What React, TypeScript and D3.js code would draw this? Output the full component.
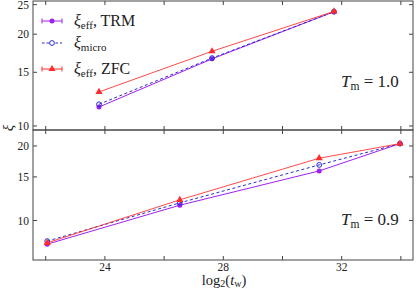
import React from "react";
import * as d3 from "d3";

const W = 416, H = 289;
const FONT = "'Liberation Serif', 'DejaVu Serif', serif";

// Top panel (T_m = 1.0)
const topX = [23.8, 27.62, 31.74];
const topTRM = [11.54, 16.6, 23.7];
const topMicro = [11.78, 16.7, 23.7];
const topZFC = [12.93, 17.58, 23.75];

// Bottom panel (T_m = 0.9)
const botX = [22.05, 26.53, 31.24, 33.97];
const botTRM = [8.03, 11.53, 15.86, 20.44];
const botMicro = [8.26, 11.79, 16.77, 20.44];
const botZFC = [8.13, 12.12, 17.85, 20.44];
const botZFCerr = [0.12, 0.2, 0.3, 0.2];
const topZFCerr = [0.12, 0.2, 0.2];

const xTicks = [22, 24, 26, 28, 30, 32, 34];
const xTickLabels = [24, 28, 32];
const topYTicks = [10, 15, 20, 25];
const botYTicks = [10, 15, 20];

const C_TRM = "#a020f0";
const C_MICRO = "#2b2bd0";
const C_ZFC = "#ff2a2a";

const L = 33, R = 413, T1 = 1, B1 = 130, B2 = 260;

const x = d3.scaleLinear().domain([21.57, 34.41]).range([L, R]);
const yTop = d3.scaleLog().domain([9.7, 25.7]).range([B1, T1]);
const yBot = d3.scaleLog().domain([6.93, 23.2]).range([B2, B1]);

function Series({ xs, ys, y, color, dash, marker, errs }: any) {
  const line = d3.line<number>().x((_, i) => x(xs[i])).y((v) => y(v));
  return (
    <g>
      <path d={line(ys) || ""} fill="none" stroke={color} strokeWidth={1} strokeDasharray={dash} opacity={marker === "tri" ? 0.85 : 1} />
      {errs && ys.map((v: number, i: number) => (
        <line key={"e" + i} x1={x(xs[i])} x2={x(xs[i])} y1={y(v + errs[i])} y2={y(v - errs[i])} stroke={color} strokeWidth={1} />
      ))}
      {ys.map((v: number, i: number) => {
        const cx = x(xs[i]), cy = y(v);
        if (marker === "tri") {
          const p = d3.symbol().type(d3.symbolTriangle).size(22)();
          return <path key={i} d={p || ""} transform={`translate(${cx},${cy})`} fill={color} />;
        }
        if (marker === "open") return <circle key={i} cx={cx} cy={cy} r={2.4} fill="none" stroke={color} strokeWidth={1} />;
        return <circle key={i} cx={cx} cy={cy} r={2.5} fill={color} />;
      })}
    </g>
  );
}

function Frame({ y, top, bottom, yTicks, showX }: any) {
  return (
    <g>
      {xTicks.map((t) => (
        <g key={"x" + t}>
          <line x1={x(t)} x2={x(t)} y1={bottom} y2={bottom - 4} stroke="#444" />
          <line x1={x(t)} x2={x(t)} y1={top} y2={top + 4} stroke="#444" />
        </g>
      ))}
      {yTicks.map((t: number) => (
        <g key={"y" + t}>
          <line x1={L} x2={L + 4} y1={y(t)} y2={y(t)} stroke="#444" />
          <line x1={R} x2={R - 4} y1={y(t)} y2={y(t)} stroke="#444" />
          <text x={L - 4} y={y(t)} dy="0.35em" textAnchor="end" fontSize={11.5} fontFamily={FONT} fill="#222">{t}</text>
        </g>
      ))}
      {showX && xTickLabels.map((t) => (
        <text key={"xl" + t} x={x(t)} y={bottom + 11} textAnchor="middle" fontSize={11.5} fontFamily={FONT} fill="#222">{t}</text>
      ))}
      <rect x={L} y={top} width={R - L} height={bottom - top} fill="none" stroke="#444" strokeWidth={1} />
    </g>
  );
}

function LegendRow({ yy, color, dash, marker, sub, tail }: any) {
  const x0 = 42, x1 = 62, xm = 52;
  return (
    <g>
      <line x1={x0} x2={x1} y1={yy} y2={yy} stroke={color} strokeDasharray={dash} />
      {!dash && <line x1={x0} x2={x0} y1={yy - 2.5} y2={yy + 2.5} stroke={color} />}
      {!dash && <line x1={x1} x2={x1} y1={yy - 2.5} y2={yy + 2.5} stroke={color} />}
      {marker === "tri" && <path d={d3.symbol().type(d3.symbolTriangle).size(22)() || ""} transform={`translate(${xm},${yy})`} fill={color} />}
      {marker === "open" && <circle cx={xm} cy={yy} r={2.4} fill="white" stroke={color} />}
      {marker === "fill" && <circle cx={xm} cy={yy} r={2.5} fill={color} />}
      <text x={74} y={yy + 5} fontSize={16} fontFamily={FONT} fill="#222">
        <tspan fontStyle="italic">ξ</tspan>
        <tspan fontSize={11} dy={3}>{sub}</tspan>
        {tail && <tspan dy={-3}>{tail}</tspan>}
      </text>
    </g>
  );
}

export default function App() {
  return (
    <svg width={W} height={H} style={{ position: "absolute", left: 0, top: 0 }}>
      <rect width={W} height={H} fill="white" />
      <Series xs={topX} ys={topTRM} y={yTop} color={C_TRM} marker="fill" />
      <Series xs={topX} ys={topMicro} y={yTop} color={C_MICRO} marker="open" dash="3,2.5" />
      <Series xs={topX} ys={topZFC} y={yTop} color={C_ZFC} marker="tri" errs={topZFCerr} />
      <Series xs={botX} ys={botTRM} y={yBot} color={C_TRM} marker="fill" />
      <Series xs={botX} ys={botMicro} y={yBot} color={C_MICRO} marker="open" dash="3,2.5" />
      <Series xs={botX} ys={botZFC} y={yBot} color={C_ZFC} marker="tri" errs={botZFCerr} />
      <Frame y={yTop} top={T1} bottom={B1} yTicks={topYTicks} showX={false} />
      <Frame y={yBot} top={B1} bottom={B2} yTicks={botYTicks} showX={true} />
      <LegendRow yy={21} color={C_TRM} marker="fill" sub="eff" tail=", TRM" />
      <LegendRow yy={43} color={C_MICRO} marker="open" dash="2.5,2" sub="micro" />
      <LegendRow yy={69} color={C_ZFC} marker="tri" sub="eff" tail=", ZFC" />
      <text x={341} y={87} fontSize={17} fontFamily={FONT} fill="#222">
        <tspan fontStyle="italic">T</tspan><tspan fontSize={11.5} dy={3}>m</tspan><tspan dy={-3}> = 1.0</tspan>
      </text>
      <text x={341} y={225} fontSize={17} fontFamily={FONT} fill="#222">
        <tspan fontStyle="italic">T</tspan><tspan fontSize={11.5} dy={3}>m</tspan><tspan dy={-3}> = 0.9</tspan>
      </text>
      <text transform="translate(13,128) rotate(-90)" textAnchor="middle" fontSize={15} fontFamily={FONT} fontStyle="italic" fill="#222">ξ</text>
      <text x={224} y={284.5} textAnchor="middle" fontSize={14.5} fontFamily={FONT} fill="#222">
        log<tspan fontSize={10} dy={2.5}>2</tspan><tspan dy={-2.5}>(</tspan><tspan fontStyle="italic">t</tspan><tspan fontSize={10} dy={2.5}>w</tspan><tspan dy={-2.5}>)</tspan>
      </text>
    </svg>
  );
}
